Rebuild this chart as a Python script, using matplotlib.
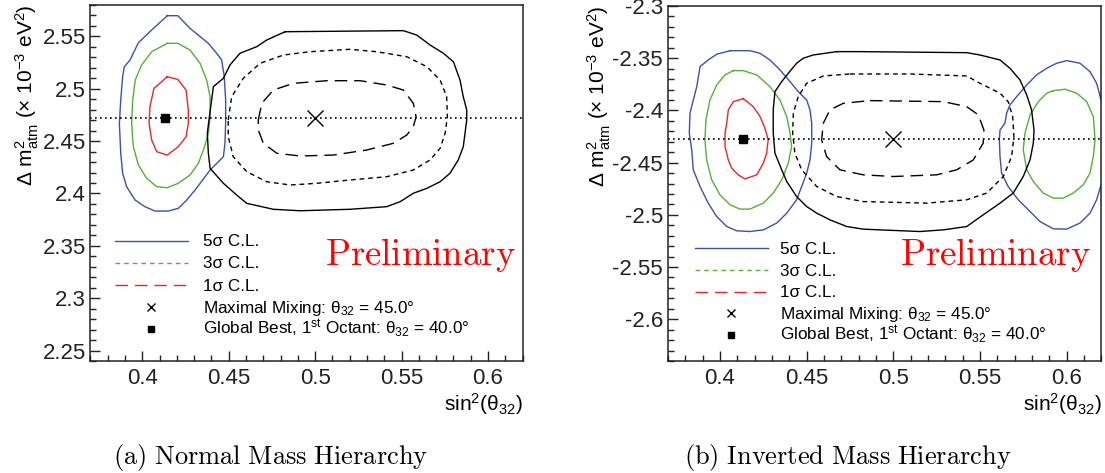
import matplotlib
matplotlib.use("Agg")
import matplotlib.pyplot as plt
from matplotlib.ticker import MultipleLocator, FuncFormatter
import numpy as np

plt.rcParams['font.family'] = ['Liberation Sans', 'DejaVu Sans']
plt.rcParams['mathtext.fontset'] = 'custom'
plt.rcParams['mathtext.rm'] = 'Liberation Sans'
plt.rcParams['mathtext.it'] = 'Liberation Sans'
plt.rcParams['mathtext.bf'] = 'Liberation Sans:bold'
plt.rcParams['axes.unicode_minus'] = False

BLUE = '#3a52a8'
GREEN = '#55b035'
RED = '#e8262a'

# ---- normal hierarchy: global best fit (1st octant) contours ----
nh_best = (0.4132, 2.472)
nh_max = (0.5, 2.472)

nh_5s_x = [0.4144, 0.4205, 0.4276, 0.4382, 0.4430, 0.4459, 0.4474, 0.4482, 0.4482, 0.4478,
           0.4469, 0.4392, 0.4305, 0.4257, 0.4208, 0.4150, 0.4073, 0.4015, 0.3958, 0.3909,
           0.3886, 0.3875, 0.3867, 0.3875, 0.3886, 0.3896, 0.3929, 0.3977, 0.4054]
nh_5s_y = [2.5698, 2.5698, 2.5577, 2.5434, 2.5339, 2.5275, 2.5115, 2.4893, 2.4670, 2.4479,
           2.4351, 2.4224, 2.4033, 2.3937, 2.3858, 2.3832, 2.3832, 2.3874, 2.3937, 2.4065,
           2.4193, 2.4384, 2.4670, 2.4893, 2.5115, 2.5211, 2.5275, 2.5440, 2.5561]

nh_3s_x = [0.4144, 0.4205, 0.4276, 0.4334, 0.4372, 0.4392, 0.4392, 0.4382, 0.4357, 0.4324,
           0.4276, 0.4208, 0.4144, 0.4083, 0.4025, 0.3977, 0.3948, 0.3938, 0.3944, 0.3959,
           0.3996, 0.4054]
nh_3s_y = [2.5434, 2.5434, 2.5370, 2.5243, 2.5084, 2.4924, 2.4733, 2.4575, 2.4431, 2.4288,
           2.4176, 2.4097, 2.4055, 2.4065, 2.4145, 2.4272, 2.4447, 2.4670, 2.4893, 2.5084,
           2.5227, 2.5354]

nh_1s_x = [0.4144, 0.4205, 0.4253, 0.4266, 0.4266, 0.4253, 0.4208, 0.4144, 0.4083, 0.4054,
           0.4039, 0.4044, 0.4067, 0.4112]
nh_1s_y = [2.5115, 2.5090, 2.4988, 2.4797, 2.4670, 2.4542, 2.4447, 2.4367, 2.4399, 2.4511,
           2.4670, 2.4829, 2.5004, 2.5067]

# ---- normal hierarchy: maximal mixing contours ----
nh_mm5_x = [0.4826, 0.5510, 0.5588, 0.5665, 0.5742, 0.5800, 0.5838, 0.5857, 0.5877, 0.5877,
            0.5867, 0.5857, 0.5828, 0.5780, 0.5723, 0.5646, 0.5568, 0.5491, 0.5414, 0.5202,
            0.4912, 0.4758, 0.4604, 0.4546, 0.4469, 0.4392, 0.4382, 0.4376, 0.4388, 0.4411,
            0.4469, 0.4507, 0.4565, 0.4662, 0.4720]
nh_mm5_y = [2.5545, 2.5555, 2.5513, 2.5418, 2.5339, 2.5258, 2.5084, 2.4924, 2.4797, 2.4702,
            2.4575, 2.4447, 2.4320, 2.4193, 2.4112, 2.4049, 2.4002, 2.3921, 2.3874, 2.3849,
            2.3835, 2.3849, 2.3906, 2.3985, 2.4097, 2.4240, 2.4384, 2.4575, 2.4733, 2.5020,
            2.5100, 2.5227, 2.5339, 2.5402, 2.5466]

nh_mm3_x = [0.4497, 0.4517, 0.4584, 0.4681, 0.4816, 0.4970, 0.5202, 0.5356, 0.5530, 0.5646,
            0.5723, 0.5761, 0.5765, 0.5752, 0.5723, 0.5665, 0.5568, 0.5414, 0.5202, 0.5009,
            0.4855, 0.4720, 0.4604, 0.4526, 0.4497]
nh_mm3_y = [2.4702, 2.4924, 2.5100, 2.5243, 2.5322, 2.5354, 2.5377, 2.5354, 2.5306, 2.5211,
            2.5084, 2.4924, 2.4733, 2.4575, 2.4431, 2.4320, 2.4224, 2.4160, 2.4129, 2.4097,
            2.4081, 2.4112, 2.4208, 2.4351, 2.4542]

nh_mm1_x = [0.4671, 0.4691, 0.4758, 0.4874, 0.5067, 0.5260, 0.5414, 0.5510, 0.5568, 0.5584,
            0.5568, 0.5530, 0.5452, 0.5298, 0.5105, 0.4912, 0.4778, 0.4700, 0.4671]
nh_mm1_y = [2.4702, 2.4861, 2.4988, 2.5052, 2.5077, 2.5077, 2.5036, 2.4988, 2.4861, 2.4733,
            2.4638, 2.4558, 2.4479, 2.4415, 2.4367, 2.4358, 2.4384, 2.4479, 2.4606]

# ---- inverted hierarchy: global best fit contours ----
ih_best = (0.4132, -2.427)
ih_max = (0.5, -2.427)

ih_5s_x = [0.4058, 0.4173, 0.4231, 0.4288, 0.4346, 0.4404, 0.4451, 0.4500, 0.4519, 0.4529,
           0.4529, 0.4519, 0.4500, 0.4442, 0.4385, 0.4327, 0.4250, 0.4173, 0.4096, 0.4039,
           0.3981, 0.3932, 0.3885, 0.3846, 0.3837, 0.3823, 0.3827, 0.3846, 0.3866, 0.3885,
           0.3932, 0.3981]
ih_5s_y = [-2.3428, -2.3428, -2.3453, -2.3517, -2.3612, -2.3724, -2.3820, -2.3900, -2.3995, -2.4123,
           -2.4314, -2.4474, -2.4601, -2.4856, -2.4984, -2.5079, -2.5144, -2.5160, -2.5153, -2.5112,
           -2.5016, -2.4888, -2.4729, -2.4569, -2.4378, -2.4218, -2.4027, -2.3900, -2.3772, -2.3581,
           -2.3517, -2.3462]

ih_3s_x = [0.4077, 0.4134, 0.4212, 0.4288, 0.4346, 0.4385, 0.4404, 0.4413, 0.4394, 0.4356,
           0.4307, 0.4250, 0.4173, 0.4115, 0.4058, 0.4000, 0.3952, 0.3923, 0.3913, 0.3919,
           0.3942, 0.3981, 0.4029]
ih_3s_y = [-2.3619, -2.3619, -2.3660, -2.3772, -2.3900, -2.4059, -2.4218, -2.4346, -2.4505, -2.4665,
           -2.4792, -2.4888, -2.4945, -2.4945, -2.4904, -2.4809, -2.4665, -2.4474, -2.4282, -2.4091,
           -2.3900, -2.3756, -2.3660]

ih_1s_x = [0.4134, 0.4192, 0.4231, 0.4259, 0.4278, 0.4269, 0.4250, 0.4212, 0.4144, 0.4105,
           0.4067, 0.4048, 0.4029, 0.4029, 0.4039, 0.4048, 0.4077]
ih_1s_y = [-2.3887, -2.3964, -2.4059, -2.4170, -2.4282, -2.4410, -2.4505, -2.4617, -2.4656, -2.4617,
           -2.4553, -2.4474, -2.4346, -2.4218, -2.4123, -2.3995, -2.3916]

# second octant island (runs past the right edge of the range)
ih_5s2_x = [0.6195, 0.6172, 0.6134, 0.6076, 0.5999, 0.5942, 0.5884, 0.5826, 0.5769, 0.5711,
            0.5672, 0.5653, 0.5643, 0.5615, 0.5611, 0.5615, 0.5624, 0.5662, 0.5720, 0.5788,
            0.5845, 0.5922, 0.5999, 0.6076, 0.6134, 0.6172, 0.6195, 0.6225, 0.6235, 0.6225]
ih_5s2_y = [-2.3883, -2.3740, -2.3629, -2.3548, -2.3523, -2.3548, -2.3596, -2.3660, -2.3756, -2.3868,
            -2.3947, -2.4027, -2.4123, -2.4187, -2.4282, -2.4442, -2.4601, -2.4729, -2.4856, -2.4968,
            -2.5064, -2.5134, -2.5137, -2.5079, -2.4984, -2.4856, -2.4729, -2.4600, -2.4300, -2.4000]

ih_3s2_x = [0.5922, 0.5990, 0.6057, 0.6115, 0.6153, 0.6163, 0.6153, 0.6134, 0.6095, 0.6037,
            0.5980, 0.5922, 0.5864, 0.5807, 0.5769, 0.5749, 0.5759, 0.5788, 0.5836, 0.5884]
ih_3s2_y = [-2.3811, -2.3797, -2.3835, -2.3916, -2.4059, -2.4282, -2.4442, -2.4601, -2.4713, -2.4792,
            -2.4840, -2.4840, -2.4792, -2.4681, -2.4569, -2.4378, -2.4218, -2.4043, -2.3916, -2.3835]

# ---- inverted hierarchy: maximal mixing contours ----
ih_mm5_x = [0.4673, 0.4807, 0.5423, 0.5499, 0.5615, 0.5672, 0.5730, 0.5769, 0.5797, 0.5811,
            0.5807, 0.5788, 0.5749, 0.5691, 0.5615, 0.5518, 0.5423, 0.5288, 0.5153, 0.4923,
            0.4826, 0.4731, 0.4634, 0.4558, 0.4500, 0.4442, 0.4385, 0.4356, 0.4317, 0.4307,
            0.4307, 0.4317, 0.4356, 0.4394, 0.4442, 0.4480, 0.4538]
ih_mm5_y = [-2.3437, -2.3437, -2.3447, -2.3469, -2.3517, -2.3596, -2.3708, -2.3852, -2.3995, -2.4187,
            -2.4314, -2.4474, -2.4633, -2.4792, -2.4888, -2.5000, -2.5112, -2.5144, -2.5160, -2.5144,
            -2.5137, -2.5112, -2.5048, -2.4984, -2.4921, -2.4825, -2.4681, -2.4569, -2.4410, -2.4218,
            -2.3995, -2.3820, -2.3724, -2.3644, -2.3548, -2.3500, -2.3469]

ih_mm3_x = [0.4750, 0.5096, 0.5423, 0.5499, 0.5615, 0.5662, 0.5688, 0.5695, 0.5682, 0.5634,
            0.5538, 0.5423, 0.5192, 0.4826, 0.4673, 0.4558, 0.4471, 0.4432, 0.4419, 0.4423,
            0.4451, 0.4500, 0.4596]
ih_mm3_y = [-2.3651, -2.3651, -2.3670, -2.3740, -2.3835, -2.3916, -2.4059, -2.4251, -2.4442, -2.4633,
            -2.4792, -2.4856, -2.4888, -2.4873, -2.4825, -2.4729, -2.4569, -2.4410, -2.4218, -2.4027,
            -2.3868, -2.3740, -2.3670]

ih_mm1_x = [0.4865, 0.5288, 0.5423, 0.5490, 0.5522, 0.5518, 0.5461, 0.5365, 0.5250, 0.5000,
            0.4826, 0.4692, 0.4615, 0.4586, 0.4596, 0.4634, 0.4711]
ih_mm1_y = [-2.3906, -2.3916, -2.3964, -2.4043, -2.4187, -2.4314, -2.4474, -2.4569, -2.4617, -2.4633,
            -2.4617, -2.4569, -2.4442, -2.4282, -2.4123, -2.3995, -2.3932]

legend_labels = ['5σ C.L.', '3σ C.L.', '1σ C.L.',
                 r'Maximal Mixing: θ$_{32}$ = 45.0°',
                 r'Global Best, 1$^{\rm st}$ Octant: θ$_{32}$ = 40.0°']
captions = ['(a) Normal Mass Hierarchy', '(b) Inverted Mass Hierarchy']

SHORT = (3.4, 2.8)
LONG = (9.0, 5.0)


def closed(xs, ys):
    return np.append(xs, xs[0]), np.append(ys, ys[0])


def contour(ax, xs, ys, color, dashes=None):
    cx, cy = closed(xs, ys)
    line, = ax.plot(cx, cy, color=color, lw=1.0)
    if dashes is not None:
        line.set_dashes(dashes)


def setup_axes(ax, ylim, yticks):
    ax.set_xlim(0.37, 0.62)
    ax.set_ylim(*ylim)
    ax.set_xticks([0.4, 0.45, 0.5, 0.55, 0.6])
    ax.set_yticks(yticks)
    ax.xaxis.set_minor_locator(MultipleLocator(0.01))
    ax.yaxis.set_minor_locator(MultipleLocator(0.01))
    fmt = FuncFormatter(lambda v, p: '%g' % round(v, 4))
    ax.xaxis.set_major_formatter(fmt)
    ax.yaxis.set_major_formatter(fmt)
    ax.tick_params(which='both', direction='in', top=False, right=False, width=1.0, colors='#222222')
    ax.tick_params(which='major', length=7.2, labelsize=16)
    ax.tick_params(which='minor', length=4.3)
    ax.tick_params(axis='x', which='major', pad=5)
    ax.tick_params(axis='y', which='major', pad=3.5)
    for sp in ax.spines.values():
        sp.set_linewidth(1.1)
        sp.set_color('#222222')
    ax.set_xlabel(r'sin$^{2}$(θ$_{32}$)', fontsize=15, loc='right')
    ax.xaxis.set_label_coords(1.0, -0.085)
    ax.set_ylabel(r'Δ m$^{2}_{\rm atm}$ (× 10$^{-3}$ eV$^{2}$)', fontsize=15, loc='top')


def legend(ax, x0, x1, xt, base, step):
    styles = [dict(color=BLUE), dict(color=GREEN, dashes=SHORT), dict(color=RED, dashes=LONG)]
    xm = 0.5 * (x0 + x1)
    for i, lab in enumerate(legend_labels):
        yb = base - i * step
        yc = yb + 0.016
        if i < 3:
            ln, = ax.plot([x0, x1], [yc, yc], transform=ax.transAxes, lw=1.0,
                          color=styles[i]['color'])
            if 'dashes' in styles[i]:
                ln.set_dashes(styles[i]['dashes'])
        elif i == 3:
            ax.plot([xm], [yc], 'x', color='black', ms=6, mew=1.0, transform=ax.transAxes)
        else:
            ax.plot([xm], [yc], 's', color='black', ms=5, transform=ax.transAxes)
        ax.text(xt, yb, lab, transform=ax.transAxes, fontsize=12.3, va='baseline', ha='left')


def preliminary(ax, x):
    ax.text(x, 0.27, r'$\mathrm{Preliminary}$', transform=ax.transAxes, ha='right',
            va='baseline', color='red', fontsize=26.5, math_fontfamily='cm')


fig = plt.figure(figsize=(11.05, 4.73), dpi=100)
ax1 = fig.add_axes([0.0819, 0.2368, 0.3910, 0.7526])
ax2 = fig.add_axes([0.6045, 0.2368, 0.3923, 0.7505])

# (a) normal hierarchy
setup_axes(ax1, (2.24, 2.58), [2.25, 2.3, 2.35, 2.4, 2.45, 2.5, 2.55])
ax1.yaxis.set_label_coords(-0.115, 1.0)
contour(ax1, nh_5s_x, nh_5s_y, BLUE)
contour(ax1, nh_3s_x, nh_3s_y, GREEN)
contour(ax1, nh_1s_x, nh_1s_y, RED)
contour(ax1, nh_mm5_x, nh_mm5_y, 'black')
contour(ax1, nh_mm3_x, nh_mm3_y, 'black', SHORT)
contour(ax1, nh_mm1_x, nh_mm1_y, 'black', LONG)
ax1.axhline(nh_best[1], color='black', lw=1.2, dashes=(1.0, 2.0))
ax1.plot(*nh_max, 'x', color='black', ms=12, mew=1.0)
ax1.plot(*nh_best, 's', color='black', ms=5.5)
legend(ax1, 0.056, 0.226, 0.261, 0.322, 0.062)
preliminary(ax1, 0.984)

# (b) inverted hierarchy
setup_axes(ax2, (-2.64, -2.3), [-2.6, -2.55, -2.5, -2.45, -2.4, -2.35, -2.3])
ax2.yaxis.set_label_coords(-0.127, 1.0)
contour(ax2, ih_5s_x, ih_5s_y, BLUE)
contour(ax2, ih_3s_x, ih_3s_y, GREEN)
contour(ax2, ih_1s_x, ih_1s_y, RED)
contour(ax2, ih_5s2_x, ih_5s2_y, BLUE)
contour(ax2, ih_3s2_x, ih_3s2_y, GREEN)
contour(ax2, ih_mm5_x, ih_mm5_y, 'black')
contour(ax2, ih_mm3_x, ih_mm3_y, 'black', SHORT)
contour(ax2, ih_mm1_x, ih_mm1_y, 'black', LONG)
ax2.axhline(ih_best[1], color='black', lw=1.2, dashes=(1.0, 2.0))
ax2.plot(*ih_max, 'x', color='black', ms=12, mew=1.0)
ax2.plot(*ih_best, 's', color='black', ms=5.5)
legend(ax2, 0.062, 0.231, 0.258, 0.301, 0.061)
preliminary(ax2, 0.976)

for xc, cap in zip([0.245, 0.767], captions):
    fig.text(xc, 0.032, r'$\mathrm{%s}$' % cap.replace(' ', r'\ '), ha='center', va='center',
             fontsize=19, math_fontfamily='cm')

fig.savefig('out.png', dpi=100)
